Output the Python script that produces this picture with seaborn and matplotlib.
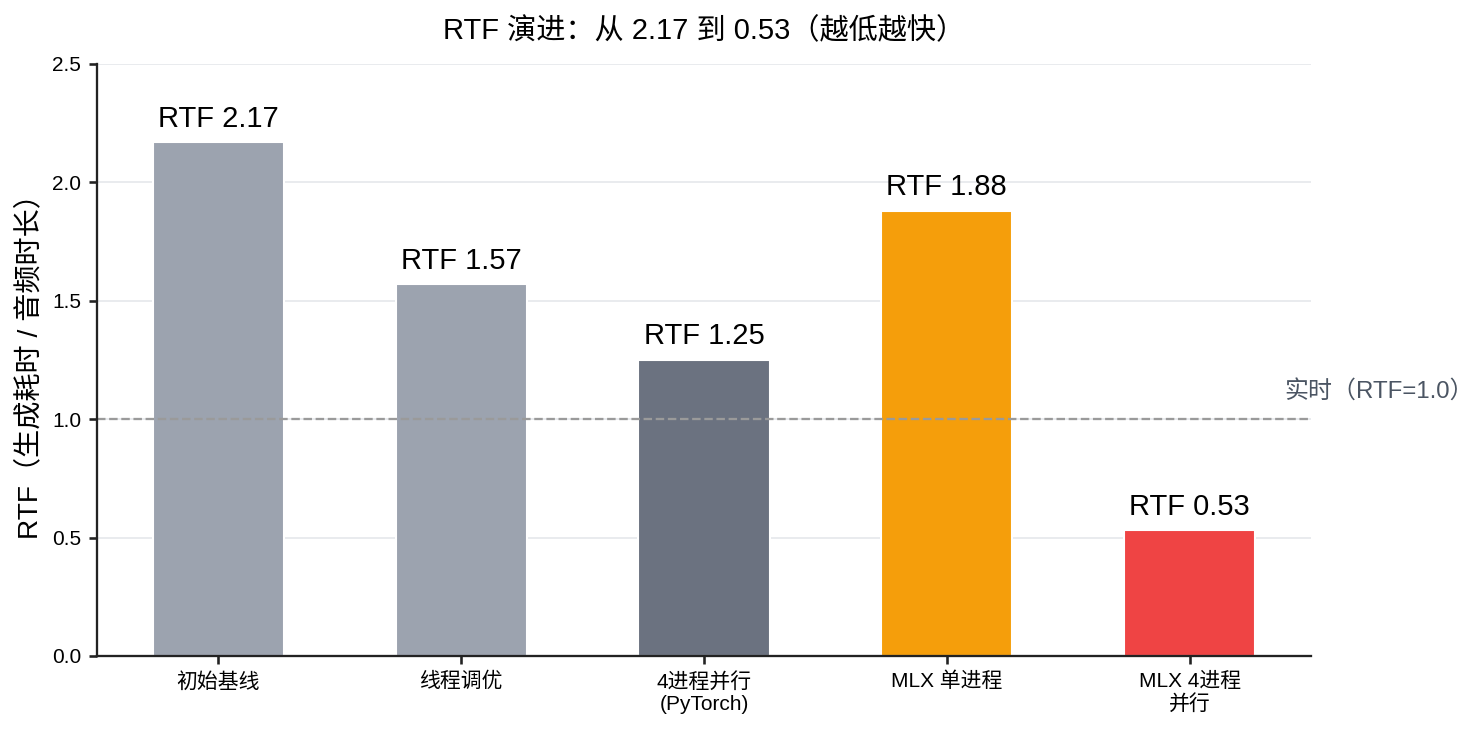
import pandas as pd
import seaborn as sns
import matplotlib
matplotlib.use("Agg")
import matplotlib.pyplot as plt

categories = ["初始基线", "线程调优", "4进程并行\n(PyTorch)", "MLX 单进程", "MLX 4进程\n并行"]
rtf_values = [2.17, 1.57, 1.25, 1.88, 0.53]
bar_colors = ["#9CA3AF", "#9CA3AF", "#6B7280", "#F59E0B", "#EF4444"]
realtime_rtf = 1.0

sns.set_theme(style="ticks")
plt.rcParams["font.family"] = ["Liberation Sans", "Noto Sans CJK SC", "DejaVu Sans"]
plt.rcParams["text.color"] = "#000000"
plt.rcParams["axes.labelcolor"] = "#000000"

df = pd.DataFrame({"stage": categories, "rtf": rtf_values})

fig = plt.figure(figsize=(1483 / 150, 735 / 150), dpi=150)
ax = fig.add_axes([0.0654, 0.1075, 0.8186, 0.8055])

sns.barplot(data=df, x="stage", y="rtf", hue="stage", palette=bar_colors,
            width=0.54, legend=False, saturation=1, ax=ax)

ax.set_axisbelow(True)
ax.yaxis.grid(True, color="#E5E7EB", linewidth=0.8)
ax.set_ylim(0, 2.5)
ax.set_xlim(-0.5, len(categories) - 0.5)

for i, v in enumerate(rtf_values):
    ax.text(i, v + 0.04, f"RTF {v:.2f}", ha="center", va="bottom", fontsize=14, color="#000000")

ax.axhline(realtime_rtf, color="#9A9A9A", linestyle="--", linewidth=1.1)
ax.text(4.39, realtime_rtf + 0.065, "实时（RTF=1.0）", ha="left", va="bottom",
        fontsize=11.5, color="#4B5563", clip_on=False)

ax.set_title("RTF 演进：从 2.17 到 0.53（越低越快）", fontsize=14, pad=12, color="#000000")
ax.set_ylabel("RTF（生成耗时 / 音频时长）", fontsize=13.5, color="#000000")
ax.set_xlabel("")
ax.tick_params(axis="both", labelsize=10, colors="#222222", length=4)
for lab in ax.get_xticklabels() + ax.get_yticklabels():
    lab.set_color("#000000")

sns.despine(ax=ax)
for side in ["left", "bottom"]:
    ax.spines[side].set_color("#222222")
    ax.spines[side].set_linewidth(1.1)

fig.savefig("out.png", dpi=150)
